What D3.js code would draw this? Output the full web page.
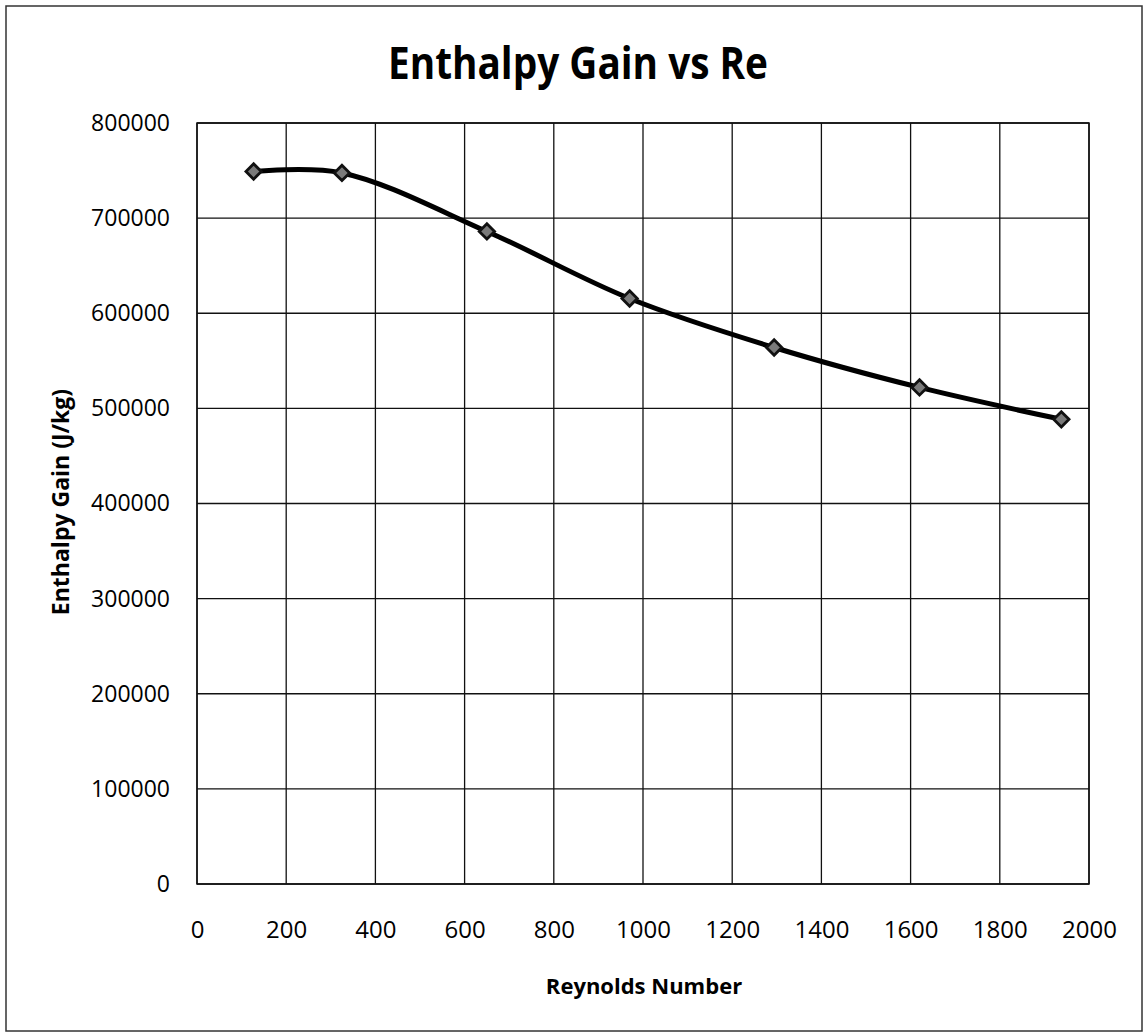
<!DOCTYPE html>
<html>
<head>
<meta charset="utf-8">
<script src="https://cdn.jsdelivr.net/npm/d3@7"></script>
<style>
  html, body { margin: 0; padding: 0; background: #fff; }
  svg { display: block; }
</style>
</head>
<body>
<svg id="chart" width="1144" height="1035"></svg>
<script>
// Reynolds number vs enthalpy gain
const reynolds = [127, 325, 650, 970, 1294, 1620, 1938];
const enthalpyGain = [749000, 747500, 686000, 615500, 564000, 522000, 488500];
const xTicks = [0, 200, 400, 600, 800, 1000, 1200, 1400, 1600, 1800, 2000];
const yTicks = [0, 100000, 200000, 300000, 400000, 500000, 600000, 700000, 800000];

const titleText = "Enthalpy Gain vs Re";
const xTitleText = "Reynolds Number";
const yTitleText = "Enthalpy Gain (J/kg)";

const svg = d3.select("#chart");
const font = "'Open Sans', Lato, sans-serif";

const plot = { left: 197, top: 123, right: 1089, bottom: 884 };

const x = d3.scaleLinear().domain([0, 2000]).range([plot.left, plot.right]);
const y = d3.scaleLinear().domain([0, 800000]).range([plot.bottom, plot.top]);

// outer chart frame
svg.append("rect")
  .attr("x", 6).attr("y", 6).attr("width", 1136).attr("height", 1025)
  .attr("fill", "#fff").attr("stroke", "#333").attr("stroke-width", 1.5);

// gridlines
const grid = svg.append("g").attr("stroke", "#111").attr("stroke-width", 1.3);
grid.selectAll("line.v").data(xTicks).join("line")
  .attr("x1", d => x(d)).attr("x2", d => x(d))
  .attr("y1", plot.top).attr("y2", plot.bottom);
grid.selectAll("line.h").data(yTicks).join("line")
  .attr("x1", plot.left).attr("x2", plot.right)
  .attr("y1", d => y(d)).attr("y2", d => y(d));

svg.append("rect")
  .attr("x", plot.left).attr("y", plot.top)
  .attr("width", plot.right - plot.left).attr("height", plot.bottom - plot.top)
  .attr("fill", "none").attr("stroke", "#111").attr("stroke-width", 1.5);

// axes (labels only; the grid carries the lines)
const xAxis = svg.append("g")
  .attr("transform", `translate(0,${plot.bottom + 34})`)
  .call(d3.axisBottom(x).tickValues(xTicks).tickSize(0).tickFormat(d3.format("d")));
xAxis.select(".domain").remove();
xAxis.selectAll("text").attr("font-family", font).attr("font-size", 24).attr("fill", "#000");

const yAxis = svg.append("g")
  .attr("transform", `translate(${plot.left - 24},0)`)
  .call(d3.axisLeft(y).tickValues(yTicks).tickSize(0).tickFormat(d3.format("d")));
yAxis.select(".domain").remove();
yAxis.selectAll("text").attr("font-family", font).attr("font-size", 23).attr("fill", "#000");

// smoothed series line
const line = d3.line()
  .x((d, i) => x(reynolds[i]))
  .y(d => y(d))
  .curve(d3.curveCatmullRom.alpha(0.5));

svg.append("path")
  .datum(enthalpyGain)
  .attr("d", line)
  .attr("fill", "none")
  .attr("stroke", "#000")
  .attr("stroke-width", 5)
  .attr("stroke-linejoin", "round");

// diamond markers
svg.append("g").selectAll("path").data(enthalpyGain).join("path")
  .attr("transform", (d, i) => `translate(${x(reynolds[i])},${y(d)})`)
  .attr("d", d3.symbol().type(d3.symbolDiamond2).size(150))
  .attr("fill", "#7a7a7a")
  .attr("stroke", "#111")
  .attr("stroke-width", 2.8);

// titles
svg.append("text")
  .attr("x", 578).attr("y", 79)
  .attr("text-anchor", "middle")
  .attr("font-family", font).attr("font-weight", "bold").attr("font-size", 45)
  .attr("textLength", 380).attr("lengthAdjust", "spacingAndGlyphs")
  .text(titleText);

svg.append("text")
  .attr("x", 644).attr("y", 994)
  .attr("text-anchor", "middle")
  .attr("font-family", font).attr("font-weight", "bold").attr("font-size", 22)
  .text(xTitleText);

svg.append("text")
  .attr("transform", "translate(69,502) rotate(-90)")
  .attr("text-anchor", "middle")
  .attr("font-family", font).attr("font-weight", "bold").attr("font-size", 23)
  .text(yTitleText);
</script>
</body>
</html>
